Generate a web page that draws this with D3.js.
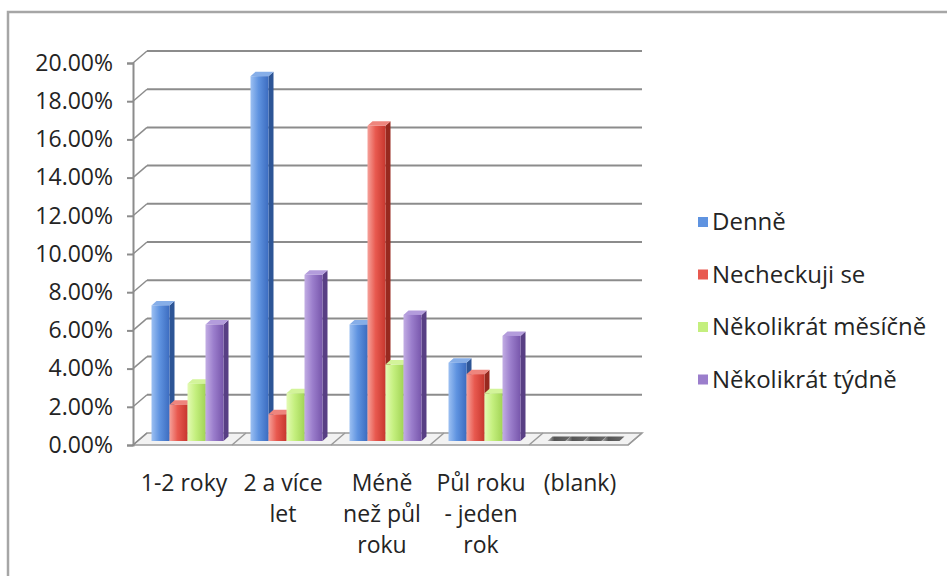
<!DOCTYPE html>
<html>
<head>
<meta charset="utf-8">
<script src="https://cdn.jsdelivr.net/npm/d3@7/dist/d3.min.js"></script>
<style>
  html, body { margin: 0; padding: 0; background: #fff; }
  svg { display: block; font-family: "Open Sans", sans-serif; }
</style>
</head>
<body>
<svg id="chart" width="947" height="576"></svg>
<script>
// Categories (x axis), wrapped into lines the way they are printed
const categories = ["1-2 roky", "2 a více let", "Méně než půl roku", "Půl roku - jeden rok", "(blank)"];
const categoryLines = [["1-2 roky"], ["2 a více", "let"], ["Méně", "než půl", "roku"], ["Půl roku", "- jeden", "rok"], ["(blank)"]];

// Series names (legend order)
const seriesNames = ["Denně", "Necheckuji se", "Několikrát měsíčně", "Několikrát týdně"];

// Values in percent, one array per series, in category order
const denne      = [7.1, 19.1, 6.1, 4.1, 0];
const necheckuji = [1.9, 1.4, 16.5, 3.5, 0];
const mesicne    = [3.0, 2.5, 4.0, 2.5, 0];
const tydne      = [6.1, 8.7, 6.6, 5.5, 0];

// Value axis ticks
const yTicks = [0, 2, 4, 6, 8, 10, 12, 14, 16, 18, 20];

const seriesValues = [denne, necheckuji, mesicne, tydne];

// Face colours of the 3D columns: [light edge, mid, dark edge, side, top]
const palette = [
  ["#9cc0f2", "#5f93e0", "#3c6cc0", "#2d5596", "#86aee8"],
  ["#f6a19a", "#e8594f", "#c7372e", "#97291f", "#ee857d"],
  ["#e4fbb4", "#c4ef7e", "#a2d456", "#7fa83a", "#d3f49a"],
  ["#c2ade4", "#9b7ecc", "#7756ab", "#583f84", "#b39cdc"]
];

const textColor = "#242424";
const fontSize = "23px";

const svg = d3.select("#chart");
const defs = svg.append("defs");

// Outer chart frame
svg.append("rect")
  .attr("x", 8).attr("y", 12).attr("width", 960).attr("height", 600)
  .attr("fill", "#fff").attr("stroke", "#a6a6a6").attr("stroke-width", 2.5);

// Geometry of the 3D box
const front = { left: 133, right: 628 };
const depth = { dx: 14, dy: -12 };          // front -> back wall offset
const barFront = { dx: 5, dy: -4 };         // front face of columns
const barBack = { dx: 10, dy: -8.5 };       // back face of columns

const y = d3.scaleLinear().domain([0, 20]).range([445, 63]);
const x = d3.scaleBand().domain(categories).range([front.left, front.right]).paddingInner(0).paddingOuter(0);
const groupWidth = 72;
const xs = d3.scaleBand().domain(seriesNames).range([0, groupWidth]);

// Floor
svg.append("path")
  .attr("d", d3.line()([
    [front.left, y(0)], [front.right, y(0)],
    [front.right + depth.dx, y(0) + depth.dy], [front.left + depth.dx, y(0) + depth.dy]
  ]) + "Z")
  .attr("fill", "#f2f2f2").attr("stroke", "#9a9a9a").attr("stroke-width", 1.5);

// Floor dividers between categories
categories.forEach((c, i) => {
  const xx = x(c) + x.bandwidth();
  svg.append("line")
    .attr("x1", xx).attr("y1", y(0)).attr("x2", xx + depth.dx).attr("y2", y(0) + depth.dy)
    .attr("stroke", "#9a9a9a").attr("stroke-width", 1.5);
});

// Back-wall gridlines and side-wall diagonals
const grid = svg.append("g");
yTicks.forEach(t => {
  if (t > 0) {
    grid.append("line")
      .attr("x1", front.left + depth.dx).attr("x2", front.right + depth.dx)
      .attr("y1", y(t) + depth.dy).attr("y2", y(t) + depth.dy)
      .attr("stroke", "#8c8c8c").attr("stroke-width", 2);
  }
  grid.append("line")
    .attr("x1", front.left).attr("y1", y(t))
    .attr("x2", front.left + depth.dx).attr("y2", y(t) + depth.dy)
    .attr("stroke", "#8c8c8c").attr("stroke-width", 1.5);
});

// Value axis
const yAxis = d3.axisLeft(y)
  .tickValues(yTicks)
  .tickFormat(d => d.toFixed(2) + "%")
  .tickSize(6).tickPadding(14);
const ga = svg.append("g").attr("transform", `translate(${front.left},0)`).call(yAxis);
ga.select(".domain").attr("stroke", "#8c8c8c").attr("stroke-width", 2);
ga.selectAll(".tick line").attr("stroke", "#8c8c8c").attr("stroke-width", 2);
ga.selectAll(".tick text").attr("fill", textColor).style("font-size", fontSize).style("font-family", "'Open Sans', sans-serif");

// Gradients for column front faces
palette.forEach((p, i) => {
  const g = defs.append("linearGradient").attr("id", "grad" + i)
    .attr("x1", "0%").attr("x2", "100%").attr("y1", "0%").attr("y2", "0%");
  g.append("stop").attr("offset", "0%").attr("stop-color", p[0]);
  g.append("stop").attr("offset", "45%").attr("stop-color", p[1]);
  g.append("stop").attr("offset", "100%").attr("stop-color", p[2]);
});
const zeroGrad = defs.append("linearGradient").attr("id", "zeroGrad")
  .attr("x1", "0%").attr("x2", "100%");
zeroGrad.append("stop").attr("offset", "0%").attr("stop-color", "#b8b8b8");
zeroGrad.append("stop").attr("offset", "30%").attr("stop-color", "#555");
zeroGrad.append("stop").attr("offset", "100%").attr("stop-color", "#6a6a6a");

// Columns
const bars = svg.append("g");
categories.forEach((c, ci) => {
  const gx = x(c) + (x.bandwidth() - groupWidth) / 2;
  seriesNames.forEach((s, si) => {
    const v = seriesValues[si][ci];
    const p = palette[si];
    const x0 = gx + xs(s) + barFront.dx;
    const x1 = x0 + xs.bandwidth();
    const yb = y(0) + barFront.dy;
    const yt = y(v) + barFront.dy;
    const ddx = barBack.dx - barFront.dx, ddy = barBack.dy - barFront.dy;
    const g = bars.append("g");
    if (v === 0) {
      g.append("path")
        .attr("d", d3.line()([[x0, yb], [x1, yb], [x1 + ddx, yb + ddy], [x0 + ddx, yb + ddy]]) + "Z")
        .attr("fill", "url(#zeroGrad)");
      return;
    }
    // side face
    g.append("path")
      .attr("d", d3.line()([[x1, yb], [x1 + ddx, yb + ddy], [x1 + ddx, yt + ddy], [x1, yt]]) + "Z")
      .attr("fill", p[3]);
    // top face
    g.append("path")
      .attr("d", d3.line()([[x0, yt], [x1, yt], [x1 + ddx, yt + ddy], [x0 + ddx, yt + ddy]]) + "Z")
      .attr("fill", p[4]);
    // front face
    g.append("rect")
      .attr("x", x0).attr("y", yt).attr("width", x1 - x0).attr("height", yb - yt)
      .attr("fill", `url(#grad${si})`);
  });
});

// Category labels
const cat = svg.append("g").attr("fill", textColor).style("font-size", fontSize);
categories.forEach((c, ci) => {
  const cx = x(c) + x.bandwidth() / 2 + 1.5;
  categoryLines[ci].forEach((line, li) => {
    cat.append("text")
      .attr("x", cx).attr("y", 491 + li * 31)
      .attr("text-anchor", "middle")
      .text(line);
  });
});

// Legend
const legend = svg.append("g").style("font-size", "24px").attr("fill", textColor);
seriesNames.forEach((s, si) => {
  const cy = 222 + si * 52.5;
  legend.append("rect")
    .attr("x", 698).attr("y", cy - 5).attr("width", 10).attr("height", 10)
    .attr("fill", palette[si][1]);
  legend.append("text")
    .attr("x", 712).attr("y", cy + 8)
    .text(s);
});
</script>
</body>
</html>
